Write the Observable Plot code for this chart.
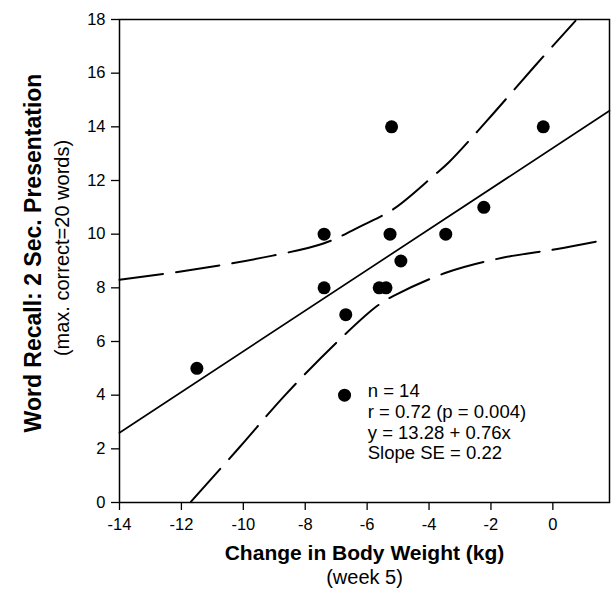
<!DOCTYPE html>
<html>
<head>
<meta charset="utf-8">
<script src="https://cdn.jsdelivr.net/npm/d3@7"></script>
<script src="https://cdn.jsdelivr.net/npm/@observablehq/plot@0.6"></script>
<style>
  html, body { margin: 0; padding: 0; background: #fff; }
  #chart { width: 611px; height: 608px; }
</style>
</head>
<body>
<div id="chart"></div>
<script>
// ---- data ----
const xTicks = [-14, -12, -10, -8, -6, -4, -2, 0];
const yTicks = [0, 2, 4, 6, 8, 10, 12, 14, 16, 18];

const weightChange = [-5.21, -0.31, -7.39, -5.26, -3.46, -2.23, -4.91, -7.39, -5.61, -5.39, -6.69, -11.5, -6.73];
const wordRecall   = [14,    14,    10,    10,    10,    11,    9,     8,     8,     8,     7,     5,     4];

// regression line (read at the frame edges)
const fitX = [-14, 1.83];
const fitY = [2.6, 14.6];

// dashed confidence curves
const upperX = [-14, -11.55, -9.05, -7.39, -6.2, -5.13, -3.84, -3.35, -2.12, -0.61, 0.73];
const upperY = [8.30, 8.69, 9.2, 9.66, 10.3, 10.95, 12.19, 12.69, 14.24, 16.23, 17.95];
const lowerX = [-11.69, -10.13, -8.62, -6.9, -5.66, -5.13, -3.41, -1.63, 0.14, 1.48];
const lowerY = [0.03, 2.05, 4.04, 6.06, 7.34, 7.71, 8.58, 9.12, 9.45, 9.74];

const statsLines = ["n = 14", "r = 0.72 (p = 0.004)", "y = 13.28 + 0.76x", "Slope SE = 0.22"];

const xTitle = "Change in Body Weight (kg)";
const xSubtitle = "(week 5)";
const yTitle = "Word Recall: 2 Sec. Presentation";
const ySubtitle = "(max. correct=20 words)";

// ---- tables built from the arrays ----
const points = weightChange.map((x, i) => ({x, y: wordRecall[i]}));
const fit = fitX.map((x, i) => ({x, y: fitY[i]}));
const upper = upperX.map((x, i) => ({x, y: upperY[i]}));
const lower = lowerX.map((x, i) => ({x, y: lowerY[i]}));

const font = "'Liberation Sans', Arial, Helvetica, sans-serif";

const chart = Plot.plot({
  width: 611,
  height: 608,
  marginLeft: 119,
  marginRight: 2,
  marginTop: 19,
  marginBottom: 106,
  style: {fontFamily: font, background: "#fff", color: "#000", overflow: "visible"},
  x: {domain: [-14, 1.83]},
  y: {domain: [0, 18]},
  marks: [
    Plot.frame({stroke: "#000", strokeWidth: 1.5}),
    Plot.axisX(xTicks, {tickSize: 8, tickPadding: 8, fontSize: 16.5, label: null, tickFormat: d => String(d), strokeWidth: 1.3}),
    Plot.axisY(yTicks, {tickSize: 8, tickPadding: 6, fontSize: 16.5, label: null, tickFormat: d => String(d), strokeWidth: 1.3}),
    Plot.line(upper, {x: "x", y: "y", curve: "catmull-rom", stroke: "#000", strokeWidth: 2, strokeDasharray: "44,13"}),
    Plot.line(lower, {x: "x", y: "y", curve: "catmull-rom", stroke: "#000", strokeWidth: 2, strokeDasharray: "44,13"}),
    Plot.line(fit, {x: "x", y: "y", stroke: "#000", strokeWidth: 1.7}),
    Plot.dot(points, {x: "x", y: "y", r: 6.5, fill: "#000", stroke: null}),
    Plot.text([statsLines.join("\n")], {text: d => d, x: -5.98, y: 4.47, textAnchor: "start", lineAnchor: "top", lineHeight: 1.12, fontSize: 18.5, fill: "#000"}),
    Plot.text([xTitle], {text: d => d, frameAnchor: "bottom", dy: 57, fontSize: 21, fontWeight: "bold", fill: "#000"}),
    Plot.text([xSubtitle], {text: d => d, frameAnchor: "bottom", dy: 81, fontSize: 20, fill: "#000"}),
    Plot.text([yTitle], {text: d => d, frameAnchor: "left", textAnchor: "middle", dx: -86, dy: -8, rotate: -90, fontSize: 23, fontWeight: "bold", fill: "#000"}),
    Plot.text([ySubtitle], {text: d => d, frameAnchor: "left", textAnchor: "middle", dx: -57, dy: -13, rotate: -90, fontSize: 20, fill: "#000"})
  ]
});

document.getElementById("chart").appendChild(chart);
</script>
</body>
</html>
